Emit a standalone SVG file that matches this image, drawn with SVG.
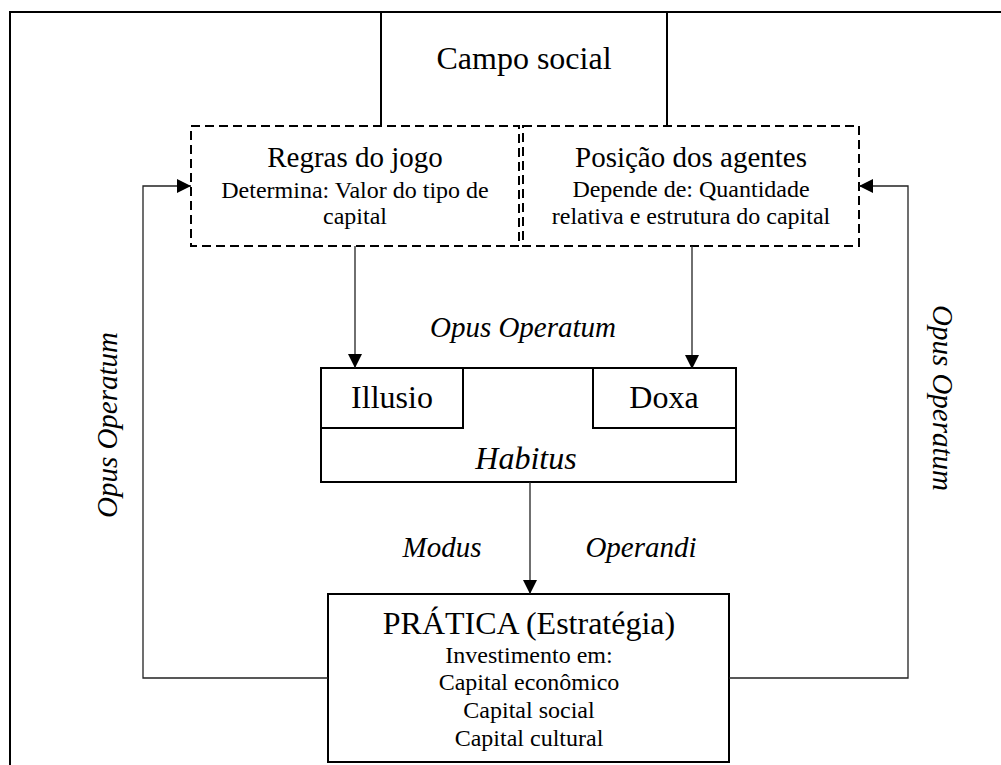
<svg xmlns="http://www.w3.org/2000/svg" width="1001" height="765" viewBox="0 0 1001 765">
  <style>
    .t { font-family: "Liberation Serif", "Times New Roman", serif; fill: #000; text-anchor: middle; }
    .big { font-size: 32px; }
    .mid { font-size: 29px; }
    .sm { font-size: 24px; }
    .it { font-style: italic; }
    .box { fill: #fff; stroke: #000; stroke-width: 2; }
    .dash { fill: none; stroke: #000; stroke-width: 2; stroke-dasharray: 9 5; }
    .edge { fill: none; stroke: #222; stroke-width: 1.3; }
  </style>
  <defs>
    <marker id="arrow" viewBox="0 0 14 14" refX="14" refY="7" markerWidth="14" markerHeight="14" markerUnits="userSpaceOnUse" orient="auto">
      <path d="M0,0 L14,7 L0,14 Z" fill="#000"/>
    </marker>
  </defs>
  <rect width="1001" height="765" fill="#fff"/>

  <!-- outer frame (open to the right and bottom) -->
  <path d="M10,780 V12 H1010" fill="none" stroke="#000" stroke-width="2"/>

  <g id="campo-social">
    <path d="M381,126 V12 H667 V126" fill="#fff" stroke="#000" stroke-width="2"/>
    <text class="t big" x="524" y="69">Campo social</text>
  </g>

  <g id="regras-do-jogo">
    <rect class="dash" x="191" y="126" width="328" height="120"/>
    <text class="t mid" x="355" y="167">Regras do jogo</text>
    <text class="t sm" x="355" y="198">Determina: Valor do tipo de</text>
    <text class="t sm" x="355" y="224">capital</text>
  </g>

  <g id="posicao-dos-agentes">
    <rect class="dash" x="523" y="126" width="336" height="120"/>
    <text class="t mid" x="691" y="167">Posição dos agentes</text>
    <text class="t sm" x="691" y="197">Depende de: Quantidade</text>
    <text class="t sm" x="691" y="224">relativa e estrutura do capital</text>
  </g>

  <g id="habitus">
    <rect class="box" x="321" y="368" width="415" height="114"/>
    <text class="t big it" x="526" y="469">Habitus</text>
  </g>

  <g id="illusio">
    <rect class="box" x="321" y="368" width="142" height="60"/>
    <text class="t big" x="392" y="408">Illusio</text>
  </g>

  <g id="doxa">
    <rect class="box" x="593" y="368" width="143" height="60"/>
    <text class="t big" x="664" y="408">Doxa</text>
  </g>

  <g id="pratica">
    <rect class="box" x="328" y="594" width="401" height="168" stroke-width="2.5"/>
    <text class="t big" x="529" y="634">PRÁTICA (Estratégia)</text>
    <text class="t sm" x="529" y="663">Investimento em:</text>
    <text class="t sm" x="529" y="690">Capital econômico</text>
    <text class="t sm" x="529" y="718">Capital social</text>
    <text class="t sm" x="529" y="746">Capital cultural</text>
  </g>

  <g id="connectors">
    <line class="edge" x1="355" y1="246" x2="355" y2="368" marker-end="url(#arrow)"/>
    <line class="edge" x1="692" y1="246" x2="692" y2="369" marker-end="url(#arrow)"/>
    <line class="edge" x1="530" y1="482" x2="530" y2="594" marker-end="url(#arrow)"/>
    <path class="edge" d="M328,678 H143 V186 H191" marker-end="url(#arrow)"/>
    <path class="edge" d="M729,678 H908 V186 H859" marker-end="url(#arrow)"/>
  </g>

  <g id="labels">
    <text class="t mid it" x="523" y="337">Opus Operatum</text>
    <text class="t mid it" x="442" y="557">Modus</text>
    <text class="t mid it" x="641" y="557">Operandi</text>
    <text class="t mid it" transform="translate(117,425) rotate(-90)">Opus Operatum</text>
    <text class="t mid it" transform="translate(933,398) rotate(90)">Opus Operatum</text>
  </g>
</svg>
